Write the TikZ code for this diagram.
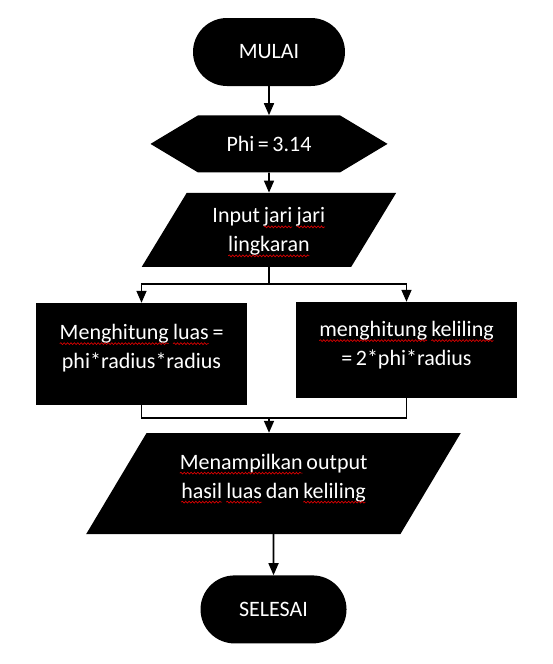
\documentclass[tikz,border=0pt]{standalone}
\usepackage{fontspec}
\setmainfont{Carlito}
\usetikzlibrary{arrows.meta, positioning, shapes.misc, shapes.geometric, shapes.symbols, decorations.pathmorphing}
\newcommand{\chartfont}{\fontsize{22}{29}\selectfont\spaceskip=3.5pt plus 1pt\relax}
\tikzset{%
  startstop/.style={rounded rectangle, fill=black, text=white, minimum height=68pt, inner sep=0pt},
  prep/.style={signal, signal to=west and east, signal pointer angle=62, fill=black, text=white,
    minimum width=237pt, minimum height=57pt, inner sep=0pt},
  io/.style={trapezium, trapezium stretches=true, fill=black, text=white, align=center, inner sep=0pt},
  process/.style={rectangle, fill=black, text=white, align=center, inner sep=0pt},
  line/.style={line width=1.6pt},
  move/.style={line, -{Triangle[width=10pt,length=12pt]}},
  word/.style={shape=rectangle, minimum width=0pt, minimum height=0pt, inner sep=0pt,
    outer sep=0pt, fill=none, draw=none, text=white, anchor=base, text depth=},
  squiggle/.style={red!85!black, line width=0.7pt, decorate,
    decoration={snake, amplitude=0.9pt, segment length=3.4pt}}
}
\newcommand{\typo}[1]{\tikz[baseline=(w.base)]{\node[word] (w) at (0,0) {#1};
  \draw[squiggle] ([yshift=-4pt]w.base west) -- ([yshift=-4pt]w.base east);}}

\begin{document}
\begin{tikzpicture}[x=1pt, y=-1pt, font=\chartfont]
  \useasboundingbox (0,0) rectangle (552,664);

  \node[startstop, minimum width=152pt] (mulai) at (269,52) {MULAI};
  \node[prep, below=29pt of mulai] (phi) {Phi = 3.14};
  \node[io, trapezium left angle=55, trapezium right angle=125,
    minimum width=255pt, minimum height=74pt, text depth=0pt, below=20pt of phi] (input)
    {Input \typo{jari} \typo{jari}\\\typo{lingkaran}};

  \node[process, minimum width=211pt, minimum height=102pt, text depth=15pt] (luas) at (141.5,354)
    {\typo{Menghitung} \typo{luas} =\\phi*radius*radius};
  \node[process, minimum width=221pt, minimum height=96pt, text depth=13pt] (keliling) at (406.5,350)
    {\typo{menghitung} \typo{keliling}\\= 2*phi*radius};

  \node[io, trapezium left angle=53, trapezium right angle=127,
    minimum width=375pt, minimum height=101pt, text depth=15pt] (output) at (273.5,483.5)
    {\typo{Menampilkan} output\\\typo{hasil} \typo{luas} dan \typo{keliling}};
  \node[startstop, minimum width=146pt, below=41pt of output] (selesai) {SELESAI};

  \coordinate (split) at (269,284);
  \coordinate (merge) at (269,418);

  \draw[move] (mulai) -- (phi);
  \draw[move] (phi) -- (input);
  \draw[line] (input) -- (split);
  \draw[move] (split) -| (luas);
  \draw[move] (split) -| (keliling);
  \draw[line] (luas) |- (merge);
  \draw[line] (keliling) |- (merge);
  \draw[move] (merge) -- (merge |- output.north);
  \draw[move] (output) -- (selesai);
\end{tikzpicture}
\end{document}
